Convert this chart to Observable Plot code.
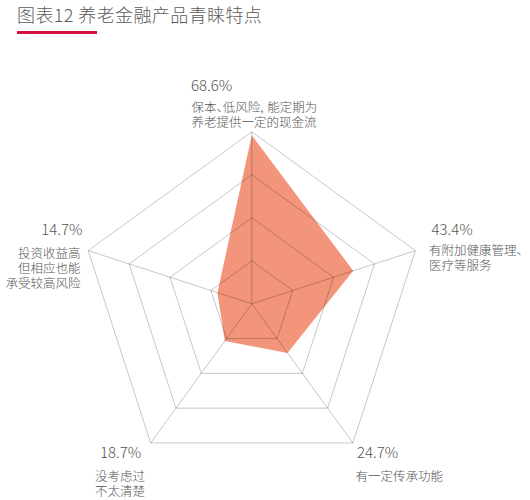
<!DOCTYPE html>
<html><head><meta charset="utf-8">
<script src="https://cdn.jsdelivr.net/npm/d3@7"></script>
<script src="https://cdn.jsdelivr.net/npm/@observablehq/plot@0.6"></script>
<style>
html,body{margin:0;padding:0;background:#fff;}
body{width:530px;height:500px;overflow:hidden;font-family:"Noto Sans CJK SC","Noto Sans",sans-serif;}
#head{position:relative;height:44px;}
#title{position:absolute;left:17px;top:1px;font-size:18px;color:#5a5a5a;font-weight:300;letter-spacing:0.4px;white-space:nowrap;}
#bar{position:absolute;left:17px;top:31px;width:80px;height:2.5px;background:#D3123F;}
#chart svg{display:block;}
#chart text{font-feature-settings:"halt";}
</style></head>
<body>
<div id="head"><div id="title">图表12 养老金融产品青睐特点</div><div id="bar"></div></div>
<div id="chart"></div>
<script>
// ---- data ----
const categories = [
  "保本、低风险, 能定期为\n养老提供一定的现金流",
  "有附加健康管理、\n医疗等服务",
  "有一定传承功能",
  "没考虑过\n不太清楚",
  "投资收益高\n但相应也能\n承受较高风险"
];
const values = [68.6, 43.4, 24.7, 18.7, 14.7];
const gridLevels = [17.5, 35, 52.5, 70];
const maxValue = 70;

// ---- layout (pixels) ----
const W = 530, H = 456;
const cx = 251.3, cy = 259.3, R = 172;
const k = R / maxValue;
const pctSize = 15, bodySize = 12.5, bodyLine = 1.2;
const bodyFont = '"Liberation Sans","Noto Sans CJK SC",sans-serif';
const pctFont = '"Noto Sans CJK SC","Noto Sans",sans-serif';
// offsets from the outer vertex: [anchor, pct dx, pct baseline dy, body dx, body baseline dy]
const labelLayout = [
  ["start", -60.8, -41.3, -60.3, -21.5],
  ["start", 16.1, -15.7, 13.6, 2.8],
  ["start", 4.1, 15.5, 2.6, 36.5],
  ["start", -50.7, 15.5, -55.7, 36.5],
  ["end", -5.7, -15.2, -7.7, 6]
];

const n = categories.length;
const ang = i => (i % n) * 2 * Math.PI / n;
const px = (v, i) => v * Math.sin(ang(i));
const py = (v, i) => v * Math.cos(ang(i));

const shape = d3.range(n + 1).map(i => ({i, v: values[i % n]}));
const rings = gridLevels.flatMap(l => d3.range(n + 1).map(i => ({l, i})));
const spokes = d3.range(n);

const labelMarks = categories.flatMap((c, i) => {
  const [anchor, pdx, pdy, bdx, bdy] = labelLayout[i];
  const at = {x: () => px(maxValue, i), y: () => py(maxValue, i)};
  return [
    Plot.text([i], {x: at.x, y: at.y, text: d => d3.format(".1f")(values[d]) + "%",
      textAnchor: anchor, lineAnchor: "top", dx: pdx, dy: pdy - 0.71 * pctSize,
      fontSize: pctSize, fill: "#555", fontWeight: 300, fontFamily: pctFont}),
    Plot.text([i], {x: at.x, y: at.y, text: d => categories[d],
      textAnchor: anchor, lineAnchor: "top", lineHeight: bodyLine, dx: bdx, dy: bdy - 0.71 * bodySize,
      fontSize: bodySize, fill: "#555", fontWeight: 300, fontFamily: bodyFont})
  ];
});

const chart = Plot.plot({
  width: W, height: H,
  margin: 0,
  style: {fontFamily: '"Noto Sans CJK SC","Noto Sans",sans-serif', background: "#fff", overflow: "visible"},
  x: {domain: [-cx / k, (W - cx) / k], range: [0, W], axis: null},
  y: {domain: [-(H - cy) / k, cy / k], range: [H, 0], axis: null},
  marks: [
    Plot.line(shape, {x: d => px(d.v, d.i), y: d => py(d.v, d.i), fill: "#F2957A", stroke: "none", curve: "linear"}),
    Plot.line(rings, {x: d => px(d.l, d.i), y: d => py(d.l, d.i), z: "l", stroke: "#000", strokeOpacity: 0.22, strokeWidth: 1}),
    Plot.link(spokes, {x1: 0, y1: 0, x2: i => px(maxValue, i), y2: i => py(maxValue, i), stroke: "#000", strokeOpacity: 0.22, strokeWidth: 1}),
    ...labelMarks
  ]
});
document.getElementById("chart").appendChild(chart);
</script>
</body></html>
